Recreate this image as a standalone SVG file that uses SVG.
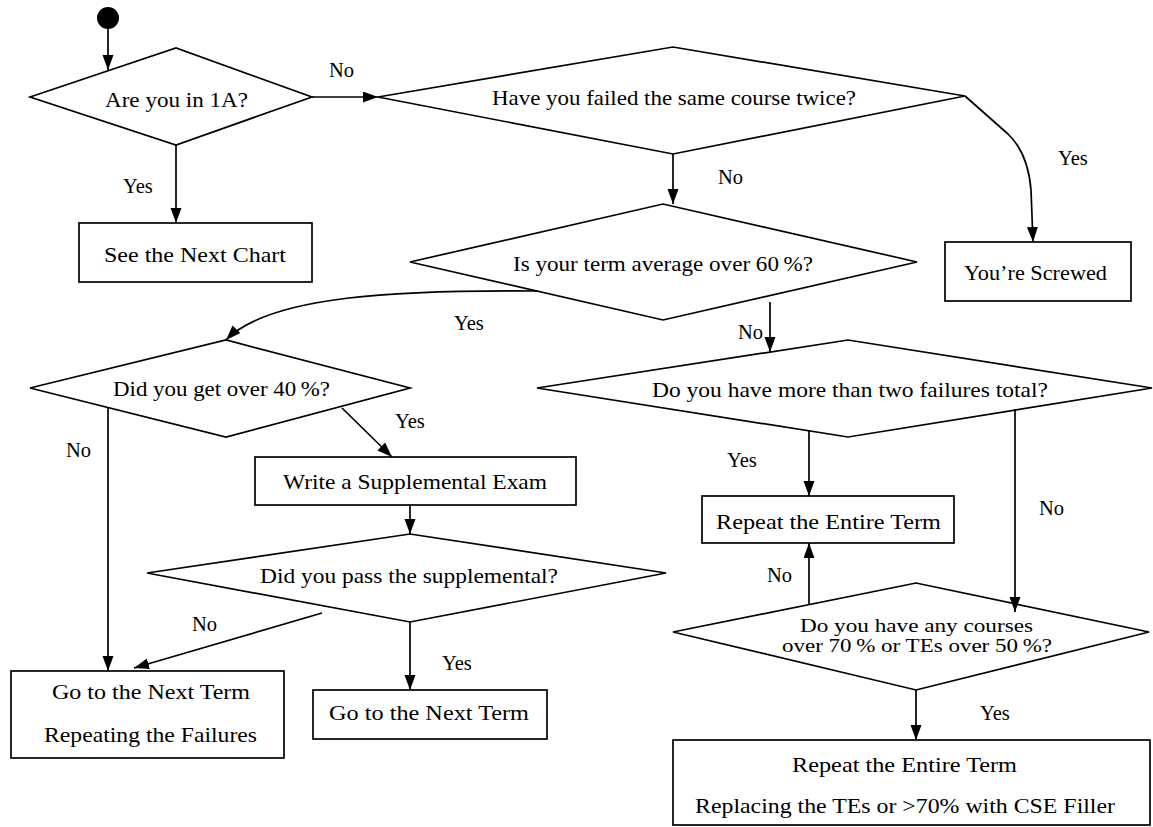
<svg xmlns="http://www.w3.org/2000/svg" width="1153" height="827" viewBox="0 0 1153 827">
<style>
.shape{fill:#fff;stroke:#000;stroke-width:1.7}
.t{font-family:"Liberation Serif","Times New Roman",serif;font-size:22px;fill:#000}
.t2{font-family:"Liberation Serif","Times New Roman",serif;font-size:19px;fill:#000}
.lbl{font-family:"Liberation Serif","Times New Roman",serif;font-size:20.5px;fill:#000}
.c{fill:none;stroke:#000;stroke-width:1.7;marker-end:url(#arr)}
</style>
<defs>
<marker id="arr" markerUnits="userSpaceOnUse" markerWidth="16" markerHeight="12" refX="15" refY="5.5" orient="auto">
<path d="M0,0 L15,5.5 L0,11 Z" fill="#000"/>
</marker>
</defs>
<rect width="1153" height="827" fill="#fff"/>

<g id="nodes">
<g id="start"><circle cx="108" cy="18" r="11" fill="#000"/></g>
<g id="q1a"><polygon class="shape" points="30,97 176,48 312,97 176,145"/>
<text class="t" x="105" y="107" textLength="143" lengthAdjust="spacingAndGlyphs">Are you in 1A?</text></g>
<g id="qtwice"><polygon class="shape" points="378,97 673,47 965,96 673,154"/>
<text class="t" x="492" y="105" textLength="364" lengthAdjust="spacingAndGlyphs">Have you failed the same course twice?</text></g>
<g id="qavg"><polygon class="shape" points="410,262 663,204 917,262 663,320"/>
<text class="t" x="513" y="271" textLength="300" lengthAdjust="spacingAndGlyphs">Is your term average over 60&#8201;%?</text></g>
<g id="screwed"><rect class="shape" x="945" y="242" width="186" height="59"/>
<text class="t" x="964" y="280" textLength="143" lengthAdjust="spacingAndGlyphs">You’re Screwed</text></g>
<g id="nextchart"><rect class="shape" x="79" y="223" width="233" height="59"/>
<text class="t" x="104" y="262" textLength="182" lengthAdjust="spacingAndGlyphs">See the Next Chart</text></g>
<g id="q40"><polygon class="shape" points="30,388 226,340 410,388 226,437"/>
<text class="t" x="113" y="396" textLength="217" lengthAdjust="spacingAndGlyphs">Did you get over 40&#8201;%?</text></g>
<g id="qfail2"><polygon class="shape" points="537,388 848,340 1152,388 848,437"/>
<text class="t" x="652" y="397" textLength="396" lengthAdjust="spacingAndGlyphs">Do you have more than two failures total?</text></g>
<g id="supp"><rect class="shape" x="255" y="457" width="321" height="48"/>
<text class="t" x="283" y="489" textLength="264" lengthAdjust="spacingAndGlyphs">Write a Supplemental Exam</text></g>
<g id="repeat1"><rect class="shape" x="702" y="496" width="252" height="47"/>
<text class="t" x="716" y="529" textLength="225" lengthAdjust="spacingAndGlyphs">Repeat the Entire Term</text></g>
<g id="qpass"><polygon class="shape" points="147,573 410,534 666,573 410,622"/>
<text class="t" x="260" y="583" textLength="298" lengthAdjust="spacingAndGlyphs">Did you pass the supplemental?</text></g>
<g id="q70"><polygon class="shape" points="673,632 916,583 1149,632 916,690"/>
<text class="t2" x="800" y="632" textLength="233" lengthAdjust="spacingAndGlyphs">Do you have any courses</text>
<text class="t2" x="782" y="652" textLength="270" lengthAdjust="spacingAndGlyphs">over 70&#8201;% or TEs over 50&#8201;%?</text></g>
<g id="nextfail"><rect class="shape" x="11" y="671" width="273" height="87"/>
<text class="t" x="52" y="699" textLength="198" lengthAdjust="spacingAndGlyphs">Go to the Next Term</text>
<text class="t" x="44" y="742" textLength="213" lengthAdjust="spacingAndGlyphs">Repeating the Failures</text></g>
<g id="next"><rect class="shape" x="313" y="690" width="234" height="49"/>
<text class="t" x="329" y="720" textLength="200" lengthAdjust="spacingAndGlyphs">Go to the Next Term</text></g>
<g id="repeat2"><rect class="shape" x="673" y="740" width="477" height="85"/>
<text class="t" x="792" y="772" textLength="225" lengthAdjust="spacingAndGlyphs">Repeat the Entire Term</text>
<text class="t" x="695" y="813" textLength="420" lengthAdjust="spacingAndGlyphs">Replacing the TEs or &gt;70% with CSE Filler</text></g>
</g>

<g id="connectors">
<path class="c" d="M108,29 L108,70"/>
<path class="c" d="M312,97 L378,97"/>
<path class="c" d="M176,145 L176,223"/>
<path class="c" d="M673,154 L673,204"/>
<path class="c" d="M965,96 L1008,134 Q1028,153 1031,190 L1033,242"/>
<path class="c" d="M538,291 C400,290 270,295 226,340"/>
<path class="c" d="M770,302 L770,352"/>
<path class="c" d="M108,408 L108,671"/>
<path class="c" d="M342,408 L392,457"/>
<path class="c" d="M410,505 L410,534"/>
<path class="c" d="M322,613 L134,668"/>
<path class="c" d="M410,622 L410,690"/>
<path class="c" d="M809,430 L809,496"/>
<path class="c" d="M1015,409 L1015,612"/>
<path class="c" d="M809,604 L809,543"/>
<path class="c" d="M916,690 L916,740"/>
</g>

<g id="labels">
<text class="lbl" x="329" y="77">No</text>
<text class="lbl" x="123" y="193">Yes</text>
<text class="lbl" x="718" y="184">No</text>
<text class="lbl" x="1058" y="165">Yes</text>
<text class="lbl" x="454" y="330">Yes</text>
<text class="lbl" x="738" y="339">No</text>
<text class="lbl" x="66" y="457">No</text>
<text class="lbl" x="395" y="428">Yes</text>
<text class="lbl" x="727" y="467">Yes</text>
<text class="lbl" x="1039" y="515">No</text>
<text class="lbl" x="767" y="582">No</text>
<text class="lbl" x="980" y="720">Yes</text>
<text class="lbl" x="192" y="631">No</text>
<text class="lbl" x="442" y="670">Yes</text>
</g>
</svg>
